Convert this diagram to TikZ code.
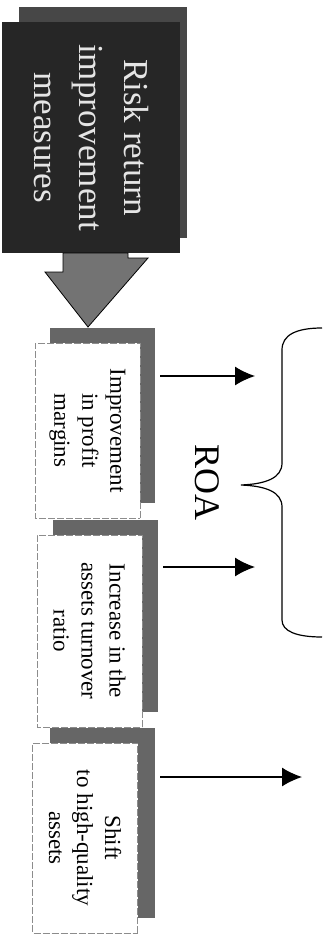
\documentclass[tikz,border=0pt]{standalone}
\usepackage{fontspec}
\setmainfont{Liberation Serif}
\usetikzlibrary{arrows.meta}

\begin{document}
\begin{tikzpicture}[x=1pt,y=-1pt,
    shadowbox/.style={fill=black!60,inner sep=0pt,outer sep=0pt,minimum width=105pt},
    cardbox/.style={draw=black!45,dash pattern=on 7pt off 2pt,line width=0.6pt,fill=white,
      rotate=-90,align=center,inner sep=0pt,minimum height=105pt,
      font=\fontsize{23}{28}\selectfont},
    link/.style={-{Latex[length=20pt,width=19pt]},line width=1.3pt,shorten <=5pt}]
    \useasboundingbox (0,0) rectangle (329,936);
    % measures box with its shadow
    \fill[black!72] (19,7) rectangle (187,238);
    \node[fill=black!85,rotate=-90,align=center,inner sep=0pt,
      minimum width=231pt,minimum height=178pt,text=black!10,
      font=\fontsize{35}{45}\selectfont] (risk) at (91,137.5) {Risk return\\improvement\\measures};
    \filldraw[fill=black!55,line width=0.8pt] (63,253) -- (63,272) -- (45,272) -- (88,327)
      -- (148,258) -- (128,258) -- (128,253) -- cycle;
    % the three ways
    \node[shadowbox,minimum height=175pt] (sh1) at (102.5,415.5) {};
    \node[cardbox,minimum width=175pt] (b1) at (87.5,430.5) {Improvement\\in profit\\margins};
    \node[shadowbox,minimum height=192pt] (sh2) at (105.5,616) {};
    \node[cardbox,minimum width=192pt] (b2) at (89.5,631) {Increase in the\\assets turnover\\ratio};
    \node[shadowbox,minimum height=190pt] (sh3) at (102.5,823) {};
    \node[cardbox,minimum width=190pt] (b3) at (85,838) {Shift\\to high-quality\\assets};
    % arrows and brace
    \coordinate (e1) at (255,376);
    \coordinate (e2) at (255,567);
    \coordinate (e3) at (302,777);
    \draw[link] (sh1.east |- e1) -- (e1);
    \draw[link] (sh2.east |- e2) -- (e2);
    \draw[link] (sh3.east |- e3) -- (e3);
    \draw[line width=1.2pt] (322,328) .. controls (296,328) and (282,335) .. (282,350)
      -- (282,463) .. controls (282,478) and (266,484) .. (241,485)
      .. controls (266,486) and (282,492) .. (282,507)
      -- (282,620) .. controls (282,631) and (296,637) .. (322,637);
    \node[rotate=-90,font=\fontsize{36}{40}\selectfont] (roa) at (207,482) {ROA};
\end{tikzpicture}
\end{document}
